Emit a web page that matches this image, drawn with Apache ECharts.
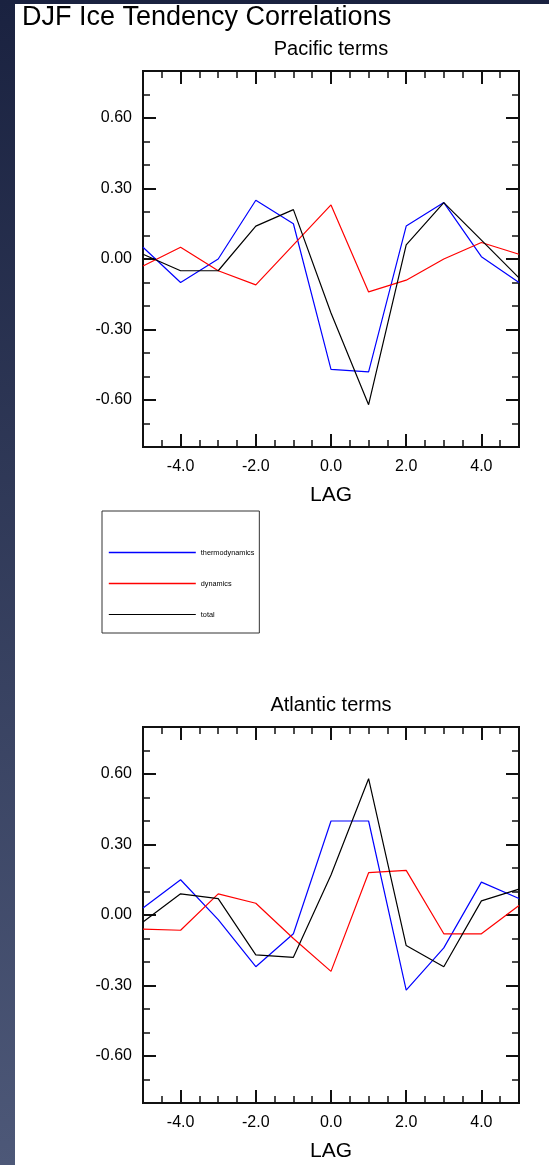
<!DOCTYPE html>
<html style="height: 100%">
<head>
<meta charset="utf-8">
<style>
html, body { margin: 0; height: 100%; }
body { background: linear-gradient(to bottom, #1a2240, #4d5878); }
#panel { position: absolute; left: 15px; top: 4px; right: 0; bottom: 0; background: #fff; }
#container { position: absolute; left: 0; top: 0; width: 549px; height: 1165px; }
</style>
</head>
<body>
<div id="panel"></div>
<div id="container"></div>
<script type="text/javascript" src="https://cdn.jsdelivr.net/npm/echarts/dist/echarts.min.js"></script>
<script type="text/javascript">
// lag (x) values
var lags = [-5, -4, -3, -2, -1, 0, 1, 2, 3, 4, 5];

// Pacific terms
var pacThermo = [0.05, -0.10, 0.00, 0.25, 0.15, -0.47, -0.48, 0.14, 0.24, 0.01, -0.10];
var pacDyn    = [-0.03, 0.05, -0.05, -0.11, 0.06, 0.23, -0.14, -0.09, 0.00, 0.07, 0.02];
var pacTotal  = [0.02, -0.05, -0.05, 0.14, 0.21, -0.23, -0.62, 0.06, 0.24, 0.08, -0.08];

// Atlantic terms
var atlThermo = [0.03, 0.15, -0.02, -0.22, -0.08, 0.40, 0.40, -0.32, -0.14, 0.14, 0.07];
var atlDyn    = [-0.06, -0.065, 0.09, 0.05, -0.10, -0.24, 0.18, 0.19, -0.08, -0.08, 0.04];
var atlTotal  = [-0.03, 0.09, 0.07, -0.17, -0.18, 0.17, 0.58, -0.13, -0.22, 0.06, 0.11];

var seriesNames = ['thermodynamics', 'dynamics', 'total'];
var panelTitles = ['Pacific terms', 'Atlantic terms'];

// tick positions
var lagMajor = [-4, -2, 0, 2, 4];
var lagMinor = [-4.5, -3.5, -3, -2.5, -1.5, -1, -0.5, 0.5, 1, 1.5, 2.5, 3, 3.5, 4.5];
var corrMajor = [-0.6, -0.3, 0, 0.3, 0.6];
var corrMinor = [-0.7, -0.5, -0.4, -0.2, -0.1, 0.1, 0.2, 0.4, 0.5, 0.7];

var font = 'Liberation Sans, Arial, Helvetica, sans-serif';
var colors = ['#0000ff', '#ff0000', '#000000'];
var gridTops = [71, 727];
var gridLeft = 143, gridSize = 376;

var dom = document.getElementById('container');
var myChart = echarts.init(dom, null, { renderer: 'canvas' });

var grids = [], xAxes = [], yAxes = [], series = [], graphics = [];

function tickAxis(g, pos, values, len, width, isMajor, isX) {
    var ax = {
        type: 'value',
        gridIndex: g,
        position: pos,
        min: isX ? -5 : -0.8,
        max: isX ? 5 : 0.8,
        axisLine: { show: false, onZero: false },
        splitLine: { show: false },
        axisTick: {
            show: true, inside: true, length: len, customValues: values,
            lineStyle: { color: '#111', width: width }
        },
        axisLabel: { show: false }
    };
    if (isMajor && (pos === 'bottom' || pos === 'left')) {
        ax.axisLabel = {
            show: true,
            customValues: values,
            margin: isX ? 12 : 11,
            fontSize: 16,
            fontFamily: font,
            color: '#000',
            formatter: function (v) { return isX ? v.toFixed(1) : v.toFixed(2); }
        };
        if (isX) {
            ax.name = 'LAG';
            ax.nameLocation = 'middle';
            ax.nameGap = 38;
            ax.nameTextStyle = { fontSize: 21, fontFamily: font, color: '#000' };
        }
    }
    return ax;
}

var panels = [[pacThermo, pacDyn, pacTotal], [atlThermo, atlDyn, atlTotal]];

panels.forEach(function (sets, g) {
    grids.push({
        left: gridLeft, top: gridTops[g], width: gridSize, height: gridSize,
        show: true, borderColor: '#111', borderWidth: 2,
        backgroundColor: 'transparent', containLabel: false, outerBoundsMode: 'none'
    });
    xAxes.push(tickAxis(g, 'bottom', lagMajor, 13, 2, true, true));
    xAxes.push(tickAxis(g, 'bottom', lagMinor, 7, 1.5, false, true));
    xAxes.push(tickAxis(g, 'top', lagMajor, 13, 2, true, true));
    xAxes.push(tickAxis(g, 'top', lagMinor, 7, 1.5, false, true));
    yAxes.push(tickAxis(g, 'left', corrMajor, 13, 2, true, false));
    yAxes.push(tickAxis(g, 'left', corrMinor, 7, 1.5, false, false));
    yAxes.push(tickAxis(g, 'right', corrMajor, 13, 2, true, false));
    yAxes.push(tickAxis(g, 'right', corrMinor, 7, 1.5, false, false));

    sets.forEach(function (vals, k) {
        series.push({
            name: seriesNames[k],
            type: 'line',
            xAxisIndex: g * 4,
            yAxisIndex: g * 4,
            data: lags.map(function (x, i) { return [x, vals[i]]; }),
            symbol: 'none',
            lineStyle: { color: colors[k], width: 1.2 },
            itemStyle: { color: colors[k] },
            clip: true,
            animation: false
        });
    });

    graphics.push({
        type: 'text',
        style: {
            text: panelTitles[g], x: gridLeft + gridSize / 2, y: gridTops[g] - 22,
            font: '20px ' + font, fill: '#000',
            textAlign: 'center', textVerticalAlign: 'middle'
        }
    });
});

graphics.push({
    type: 'text',
    style: {
        text: 'DJF Ice Tendency Correlations', x: 22, y: 18,
        font: '27px ' + font, fill: '#000',
        textAlign: 'left', textVerticalAlign: 'middle'
    }
});

option = {
    backgroundColor: 'transparent',
    animation: false,
    grid: grids,
    xAxis: xAxes,
    yAxis: yAxes,
    legend: {
        data: [
            { name: 'thermodynamics', lineStyle: { width: 1.6 } },
            { name: 'dynamics', lineStyle: { width: 1.6 } },
            { name: 'total', lineStyle: { width: 1 } }
        ],
        orient: 'vertical',
        left: 102, top: 511,
        padding: [38, 5, 15, 6],
        itemWidth: 87, itemHeight: 8, itemGap: 24,
        itemStyle: { opacity: 0 },
        borderColor: '#333', borderWidth: 1, backgroundColor: '#fff',
        selectedMode: false,
        textStyle: { fontSize: 7.3, color: '#000', fontFamily: font }
    },
    graphic: graphics,
    series: series
};

myChart.setOption(option);
</script>
</body>
</html>
